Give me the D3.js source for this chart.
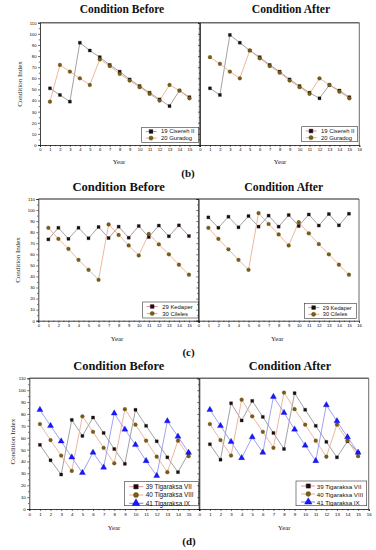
<!DOCTYPE html>
<html><head><meta charset="utf-8">
<script src="https://cdn.jsdelivr.net/npm/d3@7"></script>
<style>body{margin:0;background:#fff}svg{display:block}</style>
</head><body>
<svg id="c" width="376" height="550"></svg>
<script>
// ---------- DATA ----------
const years = [1,2,3,4,5,6,7,8,9,10,11,12,13,14,15];
const xTicks = [0,1,2,3,4,5,6,7,8,9,10,11,12,13,14,15,16];
const yTicks = [0,10,20,30,40,50,60,70,80,90,100,110];
const titles = ["Condition Before","Condition After"];
const panelLabels = ["(b)","(c)","(d)"];
const yLabel = "Condition Index";
const xLabel = "Year";

const namesB = ["19 Cisereh II","20 Guradog"];
const cisereh_before = [51,45,39,92,85,79,72,66,59,53,47,41,35,49,43];
const guradog_before = [39,72,66,60,54,77,71,64,58,52,46,40,54,49,42];
const cisereh_after  = [51,45,99,92,85,79,72,66,59,53,47,42,54,49,43];
const guradog_after  = [79,73,66,60,85,78,71,65,58,52,46,60,54,48,42];

const namesC = ["29 Kedaper","30 Cileles"];
const kedaper_before = [73.5,84,74,84,74.5,84.7,74.7,85,75,85.6,75.6,86,76.3,86.2,76.5];
const cileles_before = [84,74,65,55,46,37,87,77.5,68,59,78.4,69,60,50.6,41.6];
const kedaper_after  = [93.4,84,94,84.4,94.6,85,95,85,95.5,85.6,96,86,96.4,86.2,96.7];
const cileles_after  = [84,74,64.5,55,46,97.3,87.4,78,68,89,79,69.3,60,50.6,41.6];

const namesD = ["39 Tigaraksa VII","40 Tigaraksa VIII","41 Tigaraksa IX"];
const vii_before  = [54,41,29,75,61.5,77,64,50.5,38,83.5,70,57,43.5,31,47];
const viii_before = [71.5,58,45,32,78,65,51.5,38.5,84,71,57.5,44,31,57.5,44.5];
const ix_before   = [83.5,70,57,43.5,30.5,47.5,35,80.5,67,54,40.5,28,74,61,47.5];
const vii_after   = [54.5,41.5,89,74.5,91,77.5,64,50.5,97.5,83.5,70,56.5,43.5,57,47.5];
const viii_after  = [71.5,58,45,92,78,65,51.5,98,84,71,57.5,44,71,57.5,44.5];
const ix_after    = [83.5,70,56.5,43,60.5,47.5,94.5,81,67,53.5,40.5,87.5,74,60.5,47.5];

// ---------- STYLE ----------
const seriesStyle = [
  {shape:d3.symbolSquare, fill:"#111", stroke:"#3a0a0a", line:"#8a8a8a", legLine:"#e0708a"},
  {shape:d3.symbolCircle, fill:"#7a5c12", stroke:"#5a430a", line:"#e6a486", legLine:"#d89a70"},
  {shape:d3.symbolTriangle, fill:"#1818ff", stroke:"#0000c0", line:"#8a8af0", legLine:"#5a5aff"}
];

const svg = d3.select("#c");

const panels = [
  // row b
  {x0:40, x1:199.4, yt:22.7, yb:145, left:true, title:titles[0], tx:122, ty:13, tfs:11.5,
   ylx:20, yly:84, yrx:119, yry:164, series:[cisereh_before,guradog_before], names:namesB,
   leg:{x:141.7,y:127.3,w:57,h:15,rows:[4.2,10.8],mx:9.3,tx:19.3,l0:4,l1:15,fs:5.9,ms:14}, tfz:4.2},
  {x0:200, x1:359.3, yt:22.7, yb:145, left:false, title:titles[1], tx:291, ty:13, tfs:11.6,
   yrx:280, yry:164, series:[cisereh_after,guradog_after], names:namesB,
   leg:{x:301.7,y:126.7,w:56,h:15,rows:[4.3,11],mx:9.3,tx:19.3,l0:4,l1:15,fs:5.9,ms:14}, tfz:4.2},
  // row c
  {x0:38.3, x1:199, yt:199, yb:320.7, left:true, title:titles[0], tx:118.7, ty:190.5, tfs:12.6,
   ylx:18.5, yly:260, yrx:117, yry:340.5, series:[kedaper_before,cileles_before], names:namesC,
   leg:{x:142.7,y:302,w:56,h:16,rows:[4.5,11.5],mx:9.5,tx:19.5,l0:4,l1:15,fs:5.9,ms:14}, tfz:4.2},
  {x0:198.3, x1:359, yt:199, yb:320.7, left:false, title:titles[1], tx:283.8, ty:190.5, tfs:11.7,
   yrx:277.3, yry:340.5, series:[kedaper_after,cileles_after], names:namesC,
   leg:{x:304.3,y:303.3,w:52.4,h:15,rows:[4.3,11],mx:9.3,tx:18.5,l0:4,l1:15,fs:5.6,ms:14}, tfz:4.2},
  // row d
  {x0:29.3, x1:199.2, yt:378.3, yb:509, left:true, title:titles[0], tx:118.8, ty:370, tfs:12.4,
   ylx:13, yly:441.7, yrx:114, yry:530, series:[vii_before,viii_before,ix_before], names:namesD,
   leg:{x:124.3,y:481.7,w:74,h:24,rows:[5,13.3,21.6],mx:11.7,tx:21.4,l0:5,l1:19,fs:6.4,ms:20}, tfz:4.4},
  {x0:199.3, x1:368.7, yt:378.3, yb:509, left:false, title:titles[1], tx:290, ty:370, tfs:12.2,
   yrx:284.3, yry:530, series:[vii_after,viii_after,ix_after], names:namesD,
   leg:{x:296,y:481,w:70.7,h:24.7,rows:[5,13,21],mx:12.3,tx:20.7,l0:5,l1:19,fs:6.2,ms:18}, tfz:4.4}
];

function drawPanel(p){
  const g = svg.append("g");
  const x = d3.scaleLinear().domain([0,16]).range([p.x0,p.x1]);
  const y = d3.scaleLinear().domain([0,110]).range([p.yb,p.yt]);

  // frame top & right
  g.append("line").attr("x1",p.x0).attr("x2",p.x1).attr("y1",p.yt).attr("y2",p.yt)
    .attr("stroke","#6a6a6a").attr("stroke-width",1.6);
  g.append("line").attr("x1",p.x1).attr("x2",p.x1).attr("y1",p.yt).attr("y2",p.yb)
    .attr("stroke","#444").attr("stroke-width",0.8);

  // lines
  p.series.forEach((vals,i)=>{
    const st = seriesStyle[i];
    const line = d3.line().x((d,j)=>x(years[j])).y(d=>y(d));
    g.append("path").attr("d",line(vals)).attr("fill","none")
      .attr("stroke",st.line).attr("stroke-width",0.8);
  });
  // markers
  p.series.forEach((vals,i)=>{
    const st = seriesStyle[i];
    const size = i===2 ? 16 : (i===1 ? 11 : 9);
    g.selectAll(null).data(vals).enter().append("path")
      .attr("d",d3.symbol().type(st.shape).size(size))
      .attr("transform",(d,j)=>`translate(${x(years[j])},${y(d)})`)
      .attr("fill",st.fill).attr("stroke",st.stroke).attr("stroke-width",0.3);
  });

  // axes
  const xLab = p.left ? xTicks.filter(t=>t<16) : xTicks;
  const xa = d3.axisBottom(x).tickValues(xTicks).tickSize(2).tickPadding(1.5)
    .tickFormat(t=> xLab.includes(t) ? t : "");
  const gx = g.append("g").attr("transform",`translate(0,${p.yb})`).call(xa);
  gx.selectAll("text").attr("font-size",p.tfz).attr("font-family","Liberation Sans, Arial");
  const minorX = d3.range(0.5,16,1);
  g.append("g").attr("transform",`translate(0,${p.yb})`)
    .call(d3.axisBottom(x).tickValues(minorX).tickSize(1.2).tickFormat(""))
    .select(".domain").remove();

  const ya = d3.axisLeft(y).tickValues(yTicks).tickSize(2).tickPadding(1.5)
    .tickFormat(t=> p.left ? t : "");
  const gy = g.append("g").attr("transform",`translate(${p.x0},0)`).call(ya);
  gy.selectAll("text").attr("font-size",p.tfz).attr("font-family","Liberation Sans, Arial");
  g.append("g").attr("transform",`translate(${p.x0},0)`)
    .call(d3.axisLeft(y).tickValues(d3.range(5,110,10)).tickSize(1.2).tickFormat(""))
    .select(".domain").remove();
  g.selectAll(".domain").attr("stroke","#111").attr("stroke-width",0.8);
  g.selectAll(".tick line").attr("stroke","#111").attr("stroke-width",0.6);

  // titles
  g.append("text").attr("x",p.tx).attr("y",p.ty).attr("text-anchor","middle")
    .attr("font-family","Liberation Serif, Times New Roman, serif").attr("font-weight","bold")
    .attr("font-size",p.tfs).attr("fill","#111").text(p.title);
  if(p.left){
    g.append("text").attr("transform",`translate(${p.ylx},${p.yly}) rotate(-90)`)
      .attr("text-anchor","middle").attr("dominant-baseline","middle")
      .attr("font-family","Liberation Serif, Times New Roman, serif")
      .attr("font-size",7).attr("fill","#222").text(yLabel);
  }
  g.append("text").attr("x",p.yrx).attr("y",p.yry).attr("text-anchor","middle")
    .attr("font-family","Liberation Serif, Times New Roman, serif")
    .attr("font-size",6.8).attr("fill","#222").text(xLabel);

  // legend
  const L = p.leg;
  const lg = g.append("g").attr("transform",`translate(${L.x},${L.y})`);
  lg.append("rect").attr("width",L.w).attr("height",L.h).attr("fill","#fff")
    .attr("stroke","#333").attr("stroke-width",0.6);
  p.names.forEach((nm,i)=>{
    const st = seriesStyle[i];
    const ry = L.rows[i];
    lg.append("line").attr("x1",L.l0).attr("x2",L.l1).attr("y1",ry).attr("y2",ry)
      .attr("stroke",st.legLine).attr("stroke-width",0.8);
    lg.append("path").attr("d",d3.symbol().type(st.shape).size(i===2?L.ms*1.3:L.ms))
      .attr("transform",`translate(${L.mx},${ry})`).attr("fill",st.fill)
      .attr("stroke",st.stroke).attr("stroke-width",0.4);
    lg.append("text").attr("x",L.tx).attr("y",ry).attr("dominant-baseline","central")
      .attr("font-family","Liberation Sans, Arial").attr("font-size",L.fs)
      .attr("fill","#111").text(nm);
  });
}

panels.forEach(drawPanel);

// panel letters
const letterPos = [[188,177],[188.5,356],[189,545]];
panelLabels.forEach((t,i)=>{
  svg.append("text").attr("x",letterPos[i][0]).attr("y",letterPos[i][1])
    .attr("text-anchor","middle").attr("font-family","Liberation Serif, Times New Roman, serif")
    .attr("font-weight","bold").attr("font-size",11).attr("fill","#111").text(t);
});
</script>
</body></html>
